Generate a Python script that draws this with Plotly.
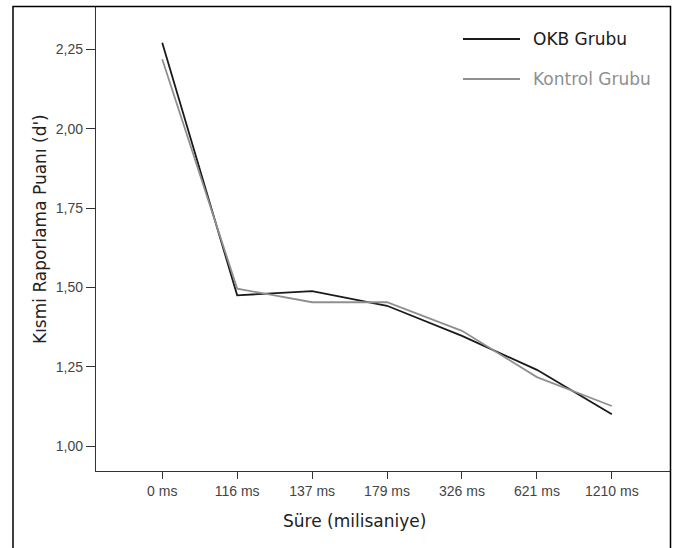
import plotly.graph_objects as go

categories = ["0 ms", "116 ms", "137 ms", "179 ms", "326 ms", "621 ms", "1210 ms"]
okb_values = [2.271, 1.475, 1.488, 1.442, 1.347, 1.240, 1.100]
kontrol_values = [2.219, 1.496, 1.453, 1.453, 1.363, 1.217, 1.126]
series_names = ["OKB Grubu", "Kontrol Grubu"]
y_tick_values = [1.00, 1.25, 1.50, 1.75, 2.00, 2.25]
x_title = "Süre (milisaniye)"
y_title = "Kısmi Raporlama Puanı (d')"

W, H = 676, 548
L, R, T, B = 96, 6, 6, 77
pw, ph = W - L - R, H - T - B

def px(x):
    return (x - L) / pw

def py(y):
    return (H - B - y) / ph

okb_color = "#1a1a1a"
kontrol_color = "#8f8f8f"

fig = go.Figure()
fig.add_trace(go.Scatter(x=categories, y=okb_values, mode="lines", name=series_names[0],
                         line=dict(color=okb_color, width=1.8), showlegend=False))
fig.add_trace(go.Scatter(x=categories, y=kontrol_values, mode="lines", name=series_names[1],
                         line=dict(color=kontrol_color, width=1.8), showlegend=False))

tick_font = dict(family="Liberation Sans, Arial, sans-serif", size=14, color="#444444")
title_font = dict(family="DejaVu Sans, Verdana, sans-serif", size=17, color="#222222")

fig.update_layout(
    width=W, height=H,
    margin=dict(l=L, r=R, t=T, b=B, pad=0),
    paper_bgcolor="white", plot_bgcolor="white",
    separators=",.",
    showlegend=False,
    xaxis=dict(type="category", categoryorder="array", categoryarray=categories,
               range=[-0.884, 6.776], showgrid=False, zeroline=False,
               showline=True, linecolor="#333333", linewidth=1.3,
               ticks="outside", ticklen=7, tickcolor="#333333", tickwidth=1.3,
               tickfont=tick_font, fixedrange=True),
    yaxis=dict(range=[0.9212, 2.3867], tickvals=y_tick_values, tickformat=".2f",
               showgrid=False, zeroline=False,
               showline=True, linecolor="#333333", linewidth=1.3,
               ticks="outside", ticklen=9, tickcolor="#333333", tickwidth=1.3,
               tickfont=tick_font, fixedrange=True),
)

annotations = [
    dict(text=x_title, x=px(354), y=py(521), xref="paper", yref="paper",
         showarrow=False, xanchor="center", yanchor="middle", font=title_font),
    dict(text=y_title, x=px(40), y=py(229), xref="paper", yref="paper",
         showarrow=False, xanchor="center", yanchor="middle", textangle=-90, font=title_font),
]
legend_font = "DejaVu Sans, Verdana, sans-serif"
legend_rows = [(series_names[0], okb_color, 39), (series_names[1], kontrol_color, 79)]
shapes = [
    dict(type="rect", xref="paper", yref="paper",
         x0=px(13), x1=px(670.5), y0=py(550), y1=py(6.5),
         line=dict(color="#000000", width=1.5), layer="above"),
]
for name, color, yy in legend_rows:
    shapes.append(dict(type="line", xref="paper", yref="paper",
                       x0=px(463), x1=px(520), y0=py(yy), y1=py(yy),
                       line=dict(color=color, width=1.8)))
    annotations.append(dict(text=name, x=px(531), y=py(yy), xref="paper", yref="paper",
                            showarrow=False, xanchor="left", yanchor="middle",
                            font=dict(family=legend_font, size=17, color=color)))

fig.update_layout(annotations=annotations, shapes=shapes)
fig.write_html("out.html", config={"displayModeBar": False},
               post_script="document.body.style.margin='0';document.body.style.padding='0';")
